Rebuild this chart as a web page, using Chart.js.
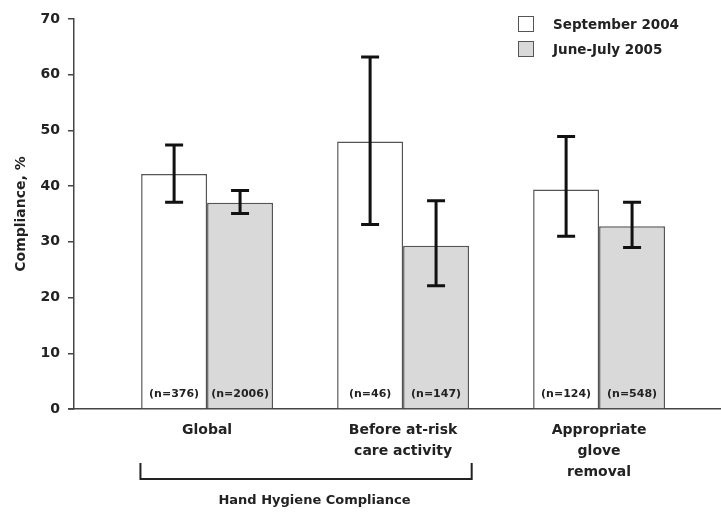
<!DOCTYPE html>
<html>
<head>
<meta charset="utf-8">
<script src="https://cdn.jsdelivr.net/npm/chart.js@4.4.1/dist/chart.umd.min.js"></script>
<style>
  html, body { margin: 0; padding: 0; background: #fff; }
  #wrap { position: relative; width: 721px; height: 513px; }
  .legend { position: absolute; left: 518px; top: 11px; font: bold 13.5px "DejaVu Sans", sans-serif; color: #222; }
  .legend div { height: 25px; display: flex; align-items: center; }
  .legend span.box { width: 14px; height: 14px; border: 1.5px solid #555; margin-right: 19px; box-sizing: content-box; }
</style>
</head>
<body>
<div id="wrap">
  <canvas id="c" width="721" height="513"></canvas>
  <div class="legend">
    <div><span class="box" style="background:#fff"></span>September 2004</div>
    <div><span class="box" style="background:#d9d9d9"></span>June-July 2005</div>
  </div>
</div>
<script>
const categories = [['Global'], ['Before at-risk', 'care activity'], ['Appropriate', 'glove', 'removal']];
const seriesNames = ['September 2004', 'June-July 2005'];

const sep2004 = [42.2, 48.0, 39.4];
const sep2004Low = [37.1, 33.1, 31.0];
const sep2004High = [47.4, 63.2, 48.9];
const sep2004N = ['(n=376)', '(n=46)', '(n=124)'];

const jun2005 = [37.0, 29.3, 32.8];
const jun2005Low = [35.1, 22.1, 29.0];
const jun2005High = [39.2, 37.4, 37.1];
const jun2005N = ['(n=2006)', '(n=147)', '(n=548)'];

const yTicks = [0, 10, 20, 30, 40, 50, 60, 70];
const groupTitle = 'Hand Hygiene Compliance';

const FONT = '"DejaVu Sans", sans-serif';
const INK = '#222';

// error bars, n= labels, bracket under the first two groups
const extras = {
  id: 'extras',
  afterDatasetsDraw(chart) {
    const ctx = chart.ctx;
    const x = chart.scales.x, y = chart.scales.y;
    const area = chart.chartArea;
    const lows = [sep2004Low, jun2005Low], highs = [sep2004High, jun2005High];
    const ns = [sep2004N, jun2005N];
    ctx.save();
    chart.data.datasets.forEach((ds, di) => {
      chart.getDatasetMeta(di).data.forEach((bar, i) => {
        const yl = y.getPixelForValue(lows[di][i]);
        const yh = y.getPixelForValue(highs[di][i]);
        ctx.strokeStyle = '#111';
        ctx.lineWidth = 3;
        ctx.beginPath();
        ctx.moveTo(bar.x, yl); ctx.lineTo(bar.x, yh);
        ctx.moveTo(bar.x - 9, yl); ctx.lineTo(bar.x + 9, yl);
        ctx.moveTo(bar.x - 9, yh); ctx.lineTo(bar.x + 9, yh);
        ctx.stroke();

        ctx.fillStyle = INK;
        ctx.font = 'bold 11px ' + FONT;
        ctx.textAlign = 'center';
        ctx.textBaseline = 'middle';
        ctx.fillText(ns[di][i], bar.x, y.getPixelForValue(0) - 15);
      });
    });

    // baseline runs a little past the y axis
    ctx.strokeStyle = '#444';
    ctx.lineWidth = 1.5;
    ctx.beginPath();
    ctx.moveTo(area.left - 6, area.bottom); ctx.lineTo(area.left, area.bottom);
    ctx.stroke();

    // bracket
    const x0 = x.getPixelForValue(-0.34), x1 = x.getPixelForValue(1.35);
    const top = area.bottom + 54, bot = area.bottom + 70;
    ctx.strokeStyle = INK;
    ctx.lineWidth = 2;
    ctx.beginPath();
    ctx.moveTo(x0, top); ctx.lineTo(x0, bot); ctx.lineTo(x1, bot); ctx.lineTo(x1, top);
    ctx.stroke();
    ctx.fillStyle = INK;
    ctx.font = 'bold 13px ' + FONT;
    ctx.textAlign = 'center';
    ctx.textBaseline = 'middle';
    ctx.fillText(groupTitle, x.getPixelForValue(0.548), area.bottom + 92);
    ctx.restore();
  }
};

new Chart(document.getElementById('c'), {
  type: 'bar',
  data: {
    datasets: [
      {
        label: seriesNames[0],
        data: sep2004.map((v, i) => ({ x: i, y: v })),
        backgroundColor: '#ffffff',
        borderColor: '#555',
        borderWidth: 1.5
      },
      {
        label: seriesNames[1],
        data: jun2005.map((v, i) => ({ x: i, y: v })),
        backgroundColor: '#d9d9d9',
        borderColor: '#555',
        borderWidth: 1.5
      }
    ]
  },
  options: {
    responsive: false,
    animation: false,
    events: [],
    categoryPercentage: 0.673,
    barPercentage: 1,
    layout: { padding: { top: 19, right: 0, left: 0, bottom: 0 } },
    plugins: { legend: { display: false }, tooltip: { enabled: false } },
    scales: {
      x: {
        type: 'linear',
        min: -0.679,
        max: 2.622,
        offset: false,
        afterBuildTicks: (s) => { s.ticks = categories.map((c, i) => ({ value: i })); },
        afterFit: (s) => { s.height = 104; },
        ticks: {
          callback: (v) => categories[v],
          color: INK,
          font: { family: FONT, weight: 'bold', size: 14, lineHeight: 1.5 },
          padding: 11,
          maxRotation: 0,
          autoSkip: false
        },
        grid: { display: true, drawOnChartArea: false, drawTicks: false },
        border: { color: '#444', width: 1.5 }
      },
      y: {
        min: 0,
        max: 70,
        afterBuildTicks: (s) => { s.ticks = yTicks.map(v => ({ value: v })); },
        afterFit: (s) => { s.width = 74; },
        ticks: {
          color: INK,
          font: { family: FONT, weight: 'bold', size: 14 },
          padding: 8
        },
        grid: { drawOnChartArea: false, drawTicks: true, tickLength: 6, color: '#444', lineWidth: 1.5 },
        border: { color: '#444', width: 1.5 },
        title: {
          display: true,
          text: 'Compliance, %',
          color: INK,
          font: { family: FONT, weight: 'bold', size: 14 },
          padding: { top: 13, bottom: 0 }
        }
      }
    }
  },
  plugins: [extras]
});
</script>
</body>
</html>
